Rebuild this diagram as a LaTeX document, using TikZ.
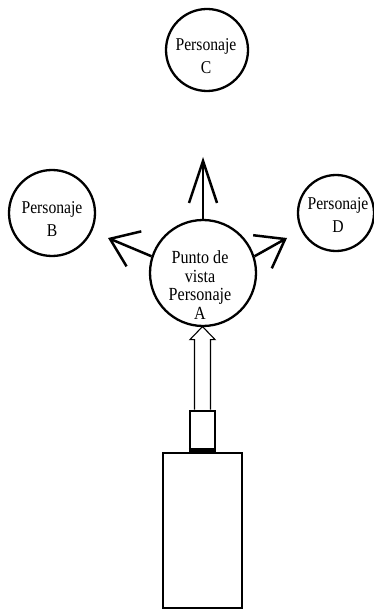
\documentclass[tikz,border=0pt]{standalone}
\usepackage{fontspec}
\setmainfont[FakeStretch=0.87]{Liberation Serif}
\usetikzlibrary{arrows.meta}
\begin{document}
\begin{tikzpicture}[x=1pt,y=-1pt,
  circ/.style={circle, draw, line width=2.3pt, inner sep=0pt, minimum size=#1},
  lbl/.style={align=center, font=\fontsize{18}{23}\selectfont, inner sep=0pt},
  lblA/.style={align=center, font=\fontsize{18.5}{18.5}\selectfont, inner sep=0pt},
  arrup/.style={line width=2.5pt, -{Straight Barb[length=42pt, width=28pt]}},
  arrside/.style={line width=2.5pt, -{Straight Barb[length=26pt, width=38pt]}},
  hollow/.style={line width=1.1pt, line join=miter},
  box/.style={draw, line width=2.3pt, rectangle, inner sep=0pt}
]
\useasboundingbox (0,0) rectangle (374,612);

% circles
\node[circ=82] (C) at (207,50) {};
\node[lbl] (Ct) at (206,56) {Personaje\\C};
\node[circ=86] (B) at (52,213) {};
\node[lbl] (Bt) at (52,219) {Personaje\\B};
\node[circ=76] (D) at (336,213) {};
\node[lbl] (Dt) at (338,215) {Personaje\\D};
\node[circ=106] (A) at (203,273) {};
\node[lblA] (At) at (200,285) {Punto de\\vista\\Personaje\\A};

% arrow tips
\coordinate (tipC) at (203,157);
\coordinate (tipB) at (108,238);
\coordinate (tipD) at (287,238);

\draw[arrup] (A.north) -- (tipC);
\draw[arrside] (A.162) -- (tipB);
\draw[arrside] (A.18) -- (tipD);

% camera
\node[box, minimum width=79pt, minimum height=155pt] (body) at (202.5,530.5) {};
\node[box, minimum width=25pt, minimum height=40pt, anchor=south] (cam) at (body.north) {};
\draw[line width=4pt] ([yshift=1.5pt]cam.south west) -- ([yshift=1.5pt]cam.south east);

% hollow arrow
\draw[hollow] ([xshift=-8pt]cam.north) -- ++(0,-70) -- ++(-4.5,0) -- ++(12.5,-13)
  -- ++(12.5,13) -- ++(-4.5,0) -- ++(0,70);
\end{tikzpicture}
\end{document}
